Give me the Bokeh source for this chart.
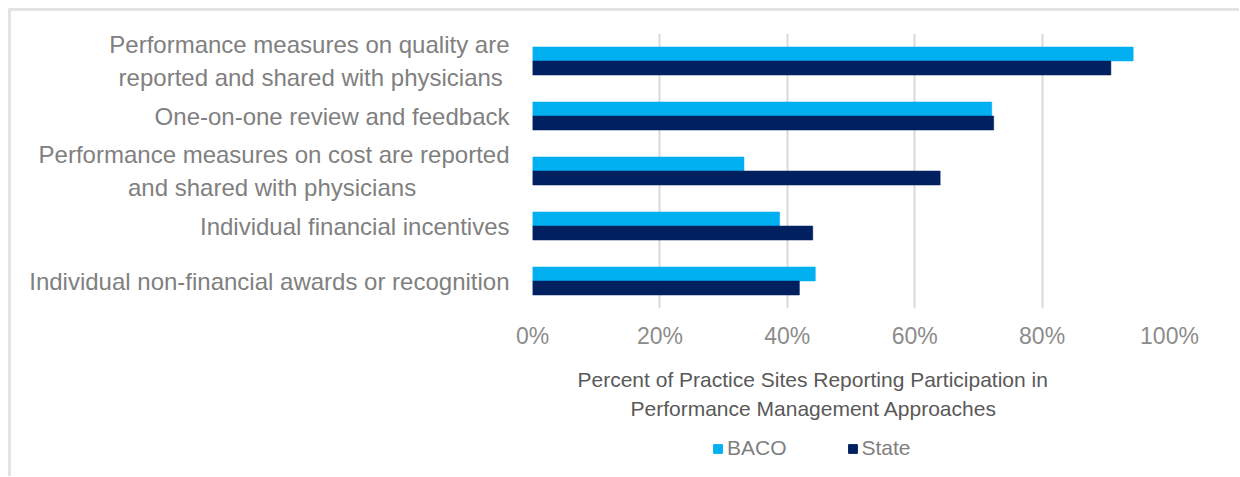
from bokeh.plotting import figure
from bokeh.layouts import column
from bokeh.models import (ColumnDataSource, FactorRange, Range1d, NumeralTickFormatter,
                          Legend, LegendItem, Title, FixedTicker)
from bokeh.transform import dodge
from bokeh.embed import file_html
from bokeh.resources import INLINE

categories = [
    "Performance measures on quality are\nreported and shared with physicians ",
    "One-on-one review and feedback",
    "Performance measures on cost are reported\nand shared with physicians              ",
    "Individual financial incentives",
    "Individual non-financial awards or recognition",
]
baco = [0.943, 0.721, 0.332, 0.388, 0.444]
state = [0.908, 0.724, 0.640, 0.440, 0.419]
series_names = ["BACO", "State"]
x_ticks = [0, 0.2, 0.4, 0.6, 0.8, 1.0]
axis_title_lines = ["Percent of Practice Sites Reporting Participation in",
                    "Performance Management Approaches"]

BACO_COLOR = "#00B0F0"
STATE_COLOR = "#002060"
FONT = "Liberation Sans"

source = ColumnDataSource(data=dict(cat=categories, baco=baco, state=state))

p = figure(
    width=1228, height=419,
    y_range=FactorRange(factors=list(reversed(categories))),
    x_range=Range1d(0, 1),
    output_backend="svg", toolbar_location=None,
    min_border_left=521, min_border_right=70, min_border_top=22, min_border_bottom=122,
    frame_width=637, frame_height=275,
)
p.outline_line_color = None
p.background_fill_color = "white"
p.border_fill_color = "white"

bar_h = 0.255
r1 = p.hbar(y=dodge("cat", bar_h / 2, range=p.y_range), right="baco", left=0, height=bar_h,
            source=source, fill_color=BACO_COLOR, line_color=BACO_COLOR, line_width=0.5)
r2 = p.hbar(y=dodge("cat", -bar_h / 2, range=p.y_range), right="state", left=0, height=bar_h,
            source=source, fill_color=STATE_COLOR, line_color=STATE_COLOR, line_width=0.5)

# grid
p.ygrid.grid_line_color = None
p.xgrid.grid_line_color = "#d9d9d9"
p.xgrid.grid_line_width = 2
p.xgrid.ticker = FixedTicker(ticks=x_ticks)

# x axis
xa = p.xaxis[0]
xa.ticker = FixedTicker(ticks=x_ticks)
xa.formatter = NumeralTickFormatter(format="0%")
xa.axis_line_color = None
xa.major_tick_line_color = None
xa.minor_tick_line_color = None
xa.major_tick_out = 0
xa.major_tick_in = 0
xa.major_label_text_font = FONT
xa.major_label_text_font_size = "23px"
xa.major_label_text_color = "#8c8c8c"
xa.major_label_standoff = 14

# y axis
ya = p.yaxis[0]
ya.axis_line_color = None
ya.major_tick_line_color = None
ya.minor_tick_line_color = None
ya.major_tick_out = 0
ya.major_tick_in = 0
ya.major_label_text_font = FONT
ya.major_label_text_font_size = "24px"
ya.major_label_text_color = "#808080"
ya.major_label_standoff = 23

# axis title (two centred lines)
t1 = Title(text=axis_title_lines[0], align="left", offset=45, text_font=FONT,
           text_font_size="21px", text_font_style="normal", text_color="#595959", standoff=28)
t2 = Title(text=axis_title_lines[1], align="left", offset=98, text_font=FONT,
           text_font_size="21px", text_font_style="normal", text_color="#595959", standoff=-20)
p.add_layout(t1, "below")
p.add_layout(t2, "below")

# legend strip: its frame is aligned with the chart frame; its renderers are hidden
pl = figure(width=1228, height=46, x_range=Range1d(0, 1), y_range=Range1d(0, 1),
            output_backend="svg", toolbar_location=None,
            x_axis_location=None, y_axis_location=None, min_border=0)
pl.outline_line_color = None
pl.grid.visible = False
pl.border_fill_color = "white"
l1 = pl.hbar(y="baco", right="baco", left=0, height=0.5, source=source,
             fill_color=BACO_COLOR, line_color=BACO_COLOR, visible=False)
l2 = pl.hbar(y="state", right="state", left=0, height=0.5, source=source,
             fill_color=STATE_COLOR, line_color=STATE_COLOR, visible=False)
legend = Legend(items=[LegendItem(label=series_names[0], renderers=[l1]),
                       LegendItem(label=series_names[1], renderers=[l2])],
                orientation="horizontal", location=(180, 16),
                glyph_width=11, glyph_height=11, label_standoff=4, spacing=60,
                label_text_font=FONT, label_text_font_size="21px", label_text_color="#7f7f7f",
                inactive_fill_alpha=0,
                border_line_color=None, background_fill_alpha=0, padding=0, margin=0)
pl.add_layout(legend, "center")

layout = column(p, pl, spacing=0)
layout.margin = (8, 0, 0, 8)
layout.styles = {"border-top": "3px solid #e3e3e3", "border-left": "3px solid #e3e3e3"}

open("out.html", "w").write(file_html(layout, INLINE))
